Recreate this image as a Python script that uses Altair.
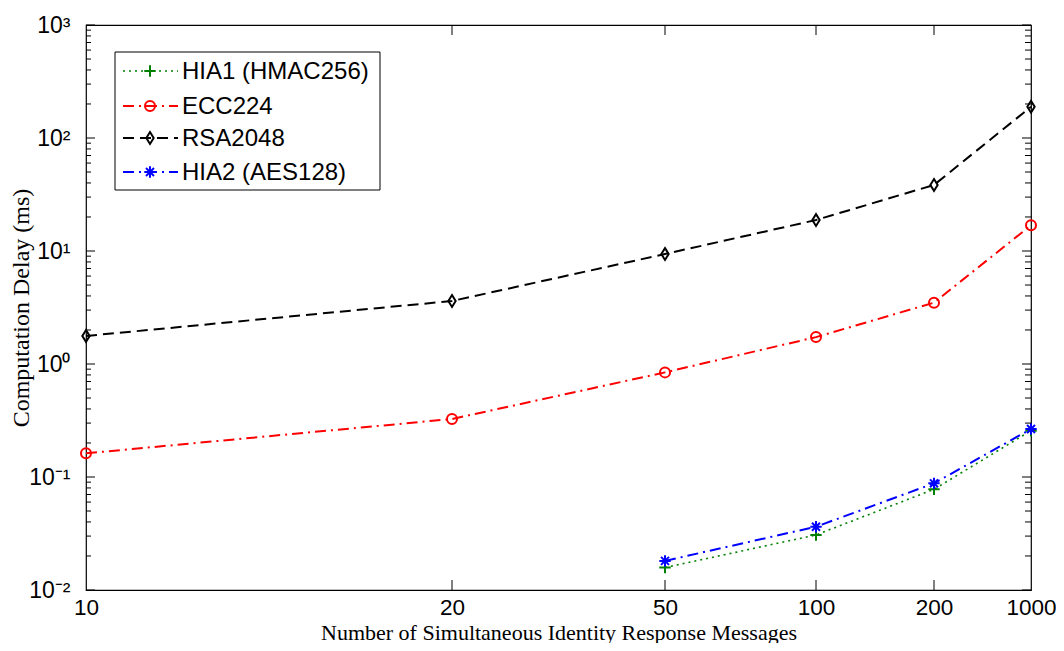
import altair as alt
import pandas as pd

# ---- data ----
x_all = [10, 20, 50, 100, 200, 1000]
x_hia = [50, 100, 200, 1000]
hia1 = [0.0158, 0.0307, 0.0778, 0.257]
ecc224 = [0.162, 0.326, 0.843, 1.73, 3.49, 16.9]
rsa2048 = [1.77, 3.61, 9.4, 18.8, 38.4, 189]
hia2 = [0.0181, 0.0363, 0.0879, 0.266]

names = ["HIA1 (HMAC256)", "ECC224", "RSA2048", "HIA2 (AES128)"]
x_ticks = [10, 20, 50, 100, 200, 1000]
y_major = [0.01, 0.1, 1, 10, 100, 1000]

W, H = 945, 565

xscale = alt.Scale(type="linear", domain=x_ticks, range=[0, 366, 579, 730, 848, W])
yscale = alt.Scale(type="log", domain=[0.01, 1000], nice=False)

PLUS = "M-1,0L1,0M0,-1L0,1"
DIAM = "M0,-1L0.62,0L0,1L-0.62,0Z"
STAR = "M-1,0L1,0M0,-1L0,1M-0.7,-0.7L0.7,0.7M-0.7,0.7L0.7,-0.7"

styles = {
    "HIA1 (HMAC256)": dict(color="#008000", dash=[2, 4], sw=1.6, shape=PLUS, size=130),
    "ECC224": dict(color="#ff0000", dash=[11, 5, 2, 5], sw=2, shape="circle", size=100),
    "RSA2048": dict(color="#000000", dash=[11, 6], sw=2, shape=DIAM, size=140),
    "HIA2 (AES128)": dict(color="#0000ff", dash=[11, 5, 2, 5], sw=2, shape=STAR, size=130),
}

series = {
    "HIA1 (HMAC256)": (x_hia, hia1),
    "ECC224": (x_all, ecc224),
    "RSA2048": (x_all, rsa2048),
    "HIA2 (AES128)": (x_hia, hia2),
}

SANS = "Liberation Sans"
SERIF = "Liberation Serif"

label_expr = ("datum.value == 0.01 ? '10⁻²' : datum.value == 0.1 ? '10⁻¹' : datum.value == 1 ? '10⁰' : "
              "datum.value == 10 ? '10¹' : datum.value == 100 ? '10²' : '10³'")

xaxis = alt.Axis(values=x_ticks, format="d", title="Number of Simultaneous Identity Response Messages",
                 ticks=False, domain=False, grid=False, labelFont=SANS, labelFontSize=22.5,
                 labelColor="black", labelPadding=6, labelFlush=False, labelOverlap=False,
                 titleFont=SERIF, titleFontSize=22, titleFontWeight="normal", titleColor="black",
                 titleX=W / 2, titleY=49, titleAlign="center", titleBaseline="alphabetic")
yaxis = alt.Axis(values=y_major, labelExpr=label_expr, title="Computation Delay (ms)",
                 ticks=False, domain=False, grid=False, labelFont=SANS, labelFontSize=23,
                 labelColor="black", labelPadding=16, labelFlush=False, labelOverlap=False,
                 titleFont=SERIF, titleFontSize=24, titleFontWeight="normal", titleColor="black",
                 titleX=-58, titleY=H / 2, titleAngle=270, titleAlign="center", titleBaseline="alphabetic")

X = lambda: alt.X("x:Q", scale=xscale, axis=xaxis)
Y = lambda: alt.Y("y:Q", scale=yscale, axis=yaxis)

layers = []
for nm in names:
    xs, ys = series[nm]
    st = styles[nm]
    df = pd.DataFrame({"x": xs, "y": ys})
    line = alt.Chart(df).mark_line(color=st["color"], strokeDash=st["dash"], strokeWidth=st["sw"]).encode(x=X(), y=Y())
    pts = alt.Chart(df).mark_point(shape=st["shape"], size=st["size"], color=st["color"], filled=False,
                                   strokeWidth=2, opacity=1).encode(x=X(), y=Y())
    layers += [line, pts]

# inward ticks (MATLAB box style)
y_minor = [k * 10.0 ** e for e in range(-2, 3) for k in range(2, 10)]
x_inner = [20, 50, 100, 200]
one = pd.DataFrame({"a": [0]})

def yticks(vals, x0, x1):
    return alt.Chart(pd.DataFrame({"y": vals})).mark_rule(color="black", strokeWidth=1).encode(
        y=Y(), x=alt.value(x0), x2=alt.value(x1))

def xticks(vals, y0, y1):
    return alt.Chart(pd.DataFrame({"x": vals})).mark_rule(color="black", strokeWidth=1).encode(
        x=X(), y=alt.value(y0), y2=alt.value(y1))

layers += [
    yticks(y_major, 0, 9), yticks(y_minor, 0, 5),
    yticks(y_major, W, W - 9), yticks(y_minor, W, W - 6),
    xticks(x_inner, H, H - 10), xticks(x_inner, 0, 10),
]

# legend box
lx0, lx1, ly0, ly1 = 29, 294, 27, 165
layers.append(alt.Chart(one).mark_rect(fill="white", stroke="black", strokeWidth=1).encode(
    x=alt.value(lx0), x2=alt.value(lx1), y=alt.value(ly0), y2=alt.value(ly1)))
row_y = [46, 81, 113, 147]
for i, nm in enumerate(names):
    st = styles[nm]
    ry = row_y[i]
    layers.append(alt.Chart(one).mark_rule(color=st["color"], strokeDash=st["dash"], strokeWidth=st["sw"]).encode(
        x=alt.value(37), x2=alt.value(92), y=alt.value(ry)))
    layers.append(alt.Chart(one).mark_point(shape=st["shape"], size=st["size"], color=st["color"], filled=False,
                                            strokeWidth=2, opacity=1).encode(x=alt.value(64), y=alt.value(ry)))
    layers.append(alt.Chart(one).mark_text(text=nm, align="left", baseline="middle", font=SANS, fontSize=24,
                                           color="black").encode(x=alt.value(96), y=alt.value(ry + 1)))

chart = alt.layer(*layers).properties(
    width=W, height=H,
    background="white",
    autosize=alt.AutoSizeParams(type="none"),
    padding={"left": 78, "top": 17, "right": 25, "bottom": 53},
).configure_view(stroke="black", strokeWidth=1.2)

chart.save("out.html", embed_options={"renderer": "svg", "actions": False})
